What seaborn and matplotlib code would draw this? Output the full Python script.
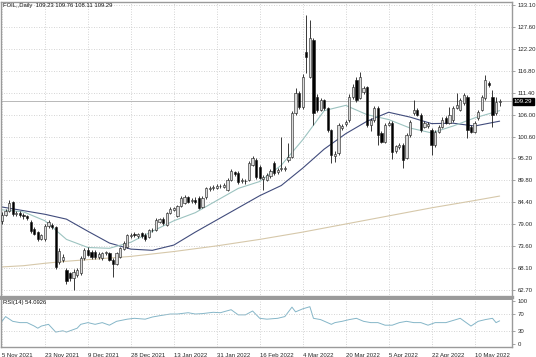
import numpy as np
import pandas as pd
import matplotlib
matplotlib.use("Agg")
import matplotlib.pyplot as plt
import matplotlib.transforms as mtransforms
import seaborn as sns

# daily candles, 5 Nov 2021 .. mid May 2022
opens = [
    79.8, 81.3, 82.3, 84.4, 81.4, 81.8, 81.3, 80.9, 79.6, 77.8,
    77.0, 75.4, 75.2, 78.4, 78.8, 78.2, 69.6, 70.0, 67.7, 66.8,
    65.6, 66.4, 66.9, 70.6, 72.6, 72.2, 72.0, 70.8, 70.6, 71.8,
    71.8, 70.2, 69.2, 70.8, 72.8, 73.4, 76.0, 76.6, 76.0, 76.8,
    76.3, 75.8, 77.4, 77.5, 79.6, 80.3, 78.8, 81.8, 82.5, 81.0,
    83.5, 84.2, 85.7, 84.8, 85.0, 85.4, 83.2, 85.6, 87.6, 87.8,
    88.0, 88.4, 88.2, 87.4, 89.9, 91.8, 91.6, 89.6, 89.7, 89.9,
    93.6, 94.8, 93.1, 90.0, 89.9, 90.8, 94.1, 91.8, 92.6, 92.5,
    94.8, 95.6, 106.4, 111.4, 107.9, 121.5, 115.3, 124.5, 110.4, 107.2,
    109.6, 107.7, 102.2, 95.8, 96.5, 102.8, 103.6, 104.7, 110.4, 114.6,
    110.1, 111.6, 112.8, 103.5, 104.7, 107.7, 101.5, 99.3, 103.5, 104.0,
    97.0, 98.0, 98.5, 95.3, 101.0, 106.4, 107.2, 106.0, 103.0, 103.2,
    102.2, 98.5, 101.8, 103.0, 105.2, 104.0, 104.7, 107.7, 107.2, 108.9,
    110.4, 103.0, 101.8, 105.2, 107.2, 110.1, 113.8, 110.4, 106.4, 109.23,
]
closes = [
    81.3, 82.3, 84.2, 81.4, 81.8, 81.3, 80.9, 80.6, 77.2, 76.6,
    75.2, 76.2, 78.6, 79.4, 78.3, 68.3, 72.4, 70.8, 64.8, 65.6,
    67.1, 67.6, 70.6, 72.6, 71.4, 70.9, 70.8, 71.6, 71.8, 72.0,
    70.2, 69.0, 71.8, 73.0, 74.4, 76.2, 76.4, 76.2, 76.5, 76.0,
    75.2, 77.4, 77.6, 80.0, 80.2, 79.2, 81.6, 82.8, 82.9, 83.4,
    85.5, 85.7, 84.5, 85.0, 84.4, 83.0, 85.4, 87.8, 88.0, 88.2,
    88.5, 88.3, 88.6, 89.9, 92.2, 91.4, 89.4, 89.8, 89.5, 94.1,
    95.3, 90.6, 90.4, 90.6, 91.1, 92.0, 91.6, 92.3, 92.9, 92.9,
    95.6, 106.4, 111.4, 107.9, 115.3, 120.3, 124.9, 106.4, 107.2, 109.6,
    107.7, 102.2, 96.0, 96.4, 103.5, 103.3, 104.2, 110.4, 112.9, 109.6,
    115.3, 112.6, 103.5, 104.7, 107.7, 101.0, 99.3, 103.5, 104.0, 96.8,
    98.2, 98.6, 94.8, 101.0, 104.2, 107.2, 106.0, 102.2, 104.0, 103.8,
    98.5, 101.8, 103.0, 104.7, 104.0, 106.0, 107.7, 108.4, 109.6, 110.9,
    102.2, 101.8, 104.0, 106.7, 110.4, 114.6, 113.3, 106.0, 109.2, 109.29,
]
highs = [
    82.0, 82.8, 85.0, 84.8, 82.3, 82.2, 81.8, 81.3, 80.0, 78.2,
    77.3, 76.6, 79.0, 80.0, 79.2, 78.5, 73.0, 71.5, 68.2, 67.2,
    67.8, 68.2, 71.0, 73.0, 73.2, 72.6, 72.5, 72.0, 72.2, 72.4,
    72.1, 70.5, 72.2, 73.4, 74.8, 76.6, 76.9, 77.0, 76.9, 77.1,
    76.7, 77.8, 78.0, 80.4, 80.6, 80.7, 82.0, 83.2, 83.3, 83.8,
    86.0, 86.1, 86.0, 85.5, 85.6, 85.8, 85.8, 88.2, 88.5, 88.7,
    89.0, 88.9, 89.2, 90.3, 92.7, 92.2, 92.0, 90.3, 90.2, 94.6,
    95.8, 95.2, 93.5, 91.0, 91.6, 92.5, 94.5, 92.8, 100.5, 93.4,
    99.0, 106.9, 112.5, 111.8, 116.0, 130.6, 129.4, 125.0, 111.0, 110.1,
    110.0, 108.0, 102.5, 97.0, 104.0, 103.8, 104.8, 111.0, 113.5, 115.2,
    116.5, 113.0, 113.2, 105.2, 108.2, 108.1, 101.9, 104.0, 104.5, 104.4,
    98.6, 99.0, 98.9, 101.4, 104.7, 109.6, 107.6, 106.4, 104.5, 104.3,
    102.6, 102.2, 103.4, 105.5, 105.6, 107.8, 108.2, 111.4, 110.1, 111.4,
    110.8, 103.4, 104.5, 107.2, 110.9, 115.8, 114.3, 112.0, 110.4, 109.76,
]
lows = [
    79.0, 81.0, 82.0, 81.0, 81.0, 80.8, 80.2, 79.9, 76.8, 76.2,
    74.8, 75.0, 74.9, 78.0, 77.8, 67.8, 69.0, 69.5, 64.2, 65.0,
    62.8, 66.0, 66.5, 70.2, 71.0, 70.4, 70.3, 70.3, 70.2, 71.3,
    69.8, 66.0, 68.8, 70.5, 72.5, 73.1, 75.6, 75.7, 75.6, 75.5,
    74.8, 75.5, 77.0, 77.2, 79.2, 78.8, 78.5, 81.4, 82.1, 80.7,
    83.2, 83.9, 84.1, 84.3, 84.0, 82.6, 82.9, 85.3, 87.2, 87.4,
    87.6, 87.8, 87.9, 87.1, 89.6, 90.9, 89.0, 89.2, 89.0, 89.6,
    93.3, 90.2, 90.0, 87.4, 89.5, 90.4, 91.2, 91.4, 92.2, 92.0,
    94.4, 95.2, 106.0, 107.3, 107.4, 116.3, 115.0, 103.5, 106.6, 106.8,
    107.2, 101.8, 94.0, 94.2, 96.0, 102.2, 103.2, 104.3, 110.0, 109.2,
    109.8, 111.2, 103.0, 102.0, 104.3, 98.5, 98.9, 98.9, 103.1, 95.0,
    96.6, 97.6, 92.8, 95.0, 100.6, 106.0, 105.6, 101.8, 102.6, 102.8,
    96.0, 98.1, 101.4, 102.6, 103.6, 103.6, 104.3, 107.3, 106.8, 108.5,
    100.2, 101.4, 101.4, 104.8, 106.8, 109.7, 112.9, 103.0, 106.0, 108.11,
]

# moving averages, read at every 6th bar
ma_bars = [0, 6, 12, 18, 24, 30, 36, 42, 48, 54, 60, 66, 72, 78, 84, 90,
           96, 102, 108, 114, 120, 126, 132, 139]
ma_fast = [82.5, 82.0, 79.8, 75.2, 73.2, 73.0, 74.5, 77.2, 79.8, 81.8, 84.8, 87.8,
           89.5, 93.5, 99.8, 107.0, 108.3, 106.0, 104.8, 102.7, 101.5, 103.2, 105.2, 107.0]
ma_slow = [83.2, 82.3, 81.4, 80.2, 77.2, 74.3, 72.8, 72.5, 73.8, 77.0, 80.0, 83.0,
           86.0, 88.5, 92.8, 97.5, 101.3, 104.4, 106.6, 105.4, 103.8, 103.9, 103.2, 104.4]
ma_long = [68.4, 68.7, 69.3, 69.8, 70.2, 70.6, 71.0, 71.6, 72.2, 72.9, 73.6, 74.4,
           75.2, 76.1, 77.0, 78.0, 79.0, 80.0, 81.0, 82.0, 83.0, 83.9, 84.8, 85.9]

rsi_bars = [0, 1, 3, 5, 7, 9, 10, 11, 13, 15, 17, 18, 19, 21, 22, 24, 26, 28, 30, 32,
            35, 37, 40, 42, 44, 47, 49, 52, 54, 56, 59, 61, 64, 66, 68, 70, 72, 74, 77, 79,
            81, 82, 84, 86, 87, 89, 92, 93, 95, 97, 99, 101, 103, 105, 107, 109, 111, 113, 115, 117,
            119, 121, 124, 126, 128, 131, 133, 135, 137, 138, 139]
rsi_vals = [53, 64, 53, 50, 50, 42, 37, 42, 46, 28, 31, 28, 31, 37, 46, 50, 46, 50, 44, 53,
            58, 60, 58, 63, 66, 70, 70, 73, 70, 71, 74, 73, 80, 68, 68, 77, 60, 58, 60, 64,
            86, 75, 82, 87, 60, 57, 46, 50, 53, 57, 60, 53, 50, 50, 44, 44, 50, 53, 50, 50,
            44, 50, 50, 55, 60, 42, 53, 57, 60, 50, 54.1]

price_ticks = [133.10, 127.60, 122.20, 116.80, 111.40, 106.00, 100.60, 95.20,
               89.80, 84.40, 79.00, 73.60, 68.10, 62.70]
date_labels = ["5 Nov 2021", "23 Nov 2021", "9 Dec 2021", "28 Dec 2021", "13 Jan 2022",
               "31 Jan 2022", "16 Feb 2022", "4 Mar 2022", "20 Mar 2022", "5 Apr 2022",
               "22 Apr 2022", "10 May 2022"]
last_price = 109.29

sns.set_style("white")
plt.rcParams["font.family"] = ["Liberation Sans", "DejaVu Sans"]

df = pd.DataFrame({"open": opens, "high": highs, "low": lows, "close": closes})
df["bar"] = np.arange(len(df))
df["up"] = df["close"] >= df["open"]

W, H = 536, 357
fig = plt.figure(figsize=(W / 100, H / 100), dpi=100)


def px_axes(x0, y0, x1, y1):
    return fig.add_axes([x0 / W, 1 - y1 / H, (x1 - x0) / W, (y1 - y0) / H])


ax = px_axes(1, 1.5, 512, 297)
ax_rsi = px_axes(1, 299, 512, 347)

frame = "#9a9a9a"
grid_kw = dict(color="#c6c6c6", linestyle=(0, (1, 2)), linewidth=0.6)
date_bars = [12 * i for i in range(len(date_labels))]

# candles
ax.vlines(df["bar"], df["low"], df["high"], color="#1a1a1a", linewidth=0.6, zorder=3)
body_lo = df[["open", "close"]].min(axis=1)
body_h = (df["close"] - df["open"]).abs()
ax.bar(df["bar"], body_h, bottom=body_lo, width=0.62,
       color=np.where(df["up"], "#dadada", "#000000"),
       edgecolor="#1a1a1a", linewidth=0.4, zorder=4)

# moving averages
sns.lineplot(x=ma_bars, y=ma_long, ax=ax, color="#d6c8aa", linewidth=0.8, zorder=2)
sns.lineplot(x=ma_bars, y=ma_slow, ax=ax, color="#414c7c", linewidth=0.8, zorder=2)
sns.lineplot(x=ma_bars, y=ma_fast, ax=ax, color="#9cc3c0", linewidth=0.8, zorder=2)

ax.axhline(last_price, color="#b8b8b8", linewidth=0.7, zorder=1)

ax.set_xlim(-0.28, 142.46)
ax.set_ylim(60.97, 133.96)
ax.set_yticks(price_ticks)
ax.set_yticklabels([f"{p:.2f}" for p in price_ticks])
ax.yaxis.tick_right()
ax.set_xticks(date_bars)
ax.set_xticklabels([])
ax.tick_params(axis="y", right=True, length=2.5, width=0.5, color="#808080",
               labelsize=4.3, pad=1.5)
ax.tick_params(axis="x", length=0)
ax.grid(True, **grid_kw)
ax.set_axisbelow(True)
ax.set_xlabel("")
ax.set_ylabel("")

ax.text(0.004, 0.996, "FOIL,,Daily  109.23 109.76 108.11 109.29", transform=ax.transAxes,
        ha="left", va="top", fontsize=4.2, color="#111111")
trans = mtransforms.blended_transform_factory(ax.transAxes, ax.transData)
ax.text(1.004, last_price, f"{last_price:.2f}", transform=trans, ha="left", va="center",
        fontsize=4.3, color="white",
        bbox=dict(boxstyle="square,pad=0.2", fc="black", ec="black"), zorder=6)

# RSI panel
sns.lineplot(x=rsi_bars, y=rsi_vals, ax=ax_rsi, color="#85b6c8", linewidth=0.7)
for lvl in (30, 70):
    ax_rsi.axhline(lvl, **grid_kw)
ax_rsi.set_xlim(ax.get_xlim())
ax_rsi.set_ylim(-6.7, 104.9)
ax_rsi.set_yticks([0, 30, 70, 100])
ax_rsi.set_yticklabels(["0", "30", "70", "100"])
ax_rsi.yaxis.tick_right()
ax_rsi.set_xticks(date_bars)
ax_rsi.set_xticklabels(date_labels)
for lbl in ax_rsi.get_xticklabels():
    lbl.set_horizontalalignment("left")
ax_rsi.tick_params(axis="both", length=2.5, width=0.5, color="#808080",
                   labelsize=4.3, pad=1.5)
ax_rsi.grid(True, axis="x", **grid_kw)
ax_rsi.set_xlabel("")
ax_rsi.set_ylabel("")
ax_rsi.text(0.004, 0.97, "RSI(14) 54.0926", transform=ax_rsi.transAxes,
            ha="left", va="top", fontsize=4.2, color="#111111")

for a in (ax, ax_rsi):
    for s in a.spines.values():
        s.set_color(frame)
        s.set_linewidth(1.0)
ax.spines["bottom"].set_linewidth(2.4)
ax_rsi.spines["top"].set_linewidth(1.4)

fig.savefig("out.png", dpi=100, facecolor="white")
